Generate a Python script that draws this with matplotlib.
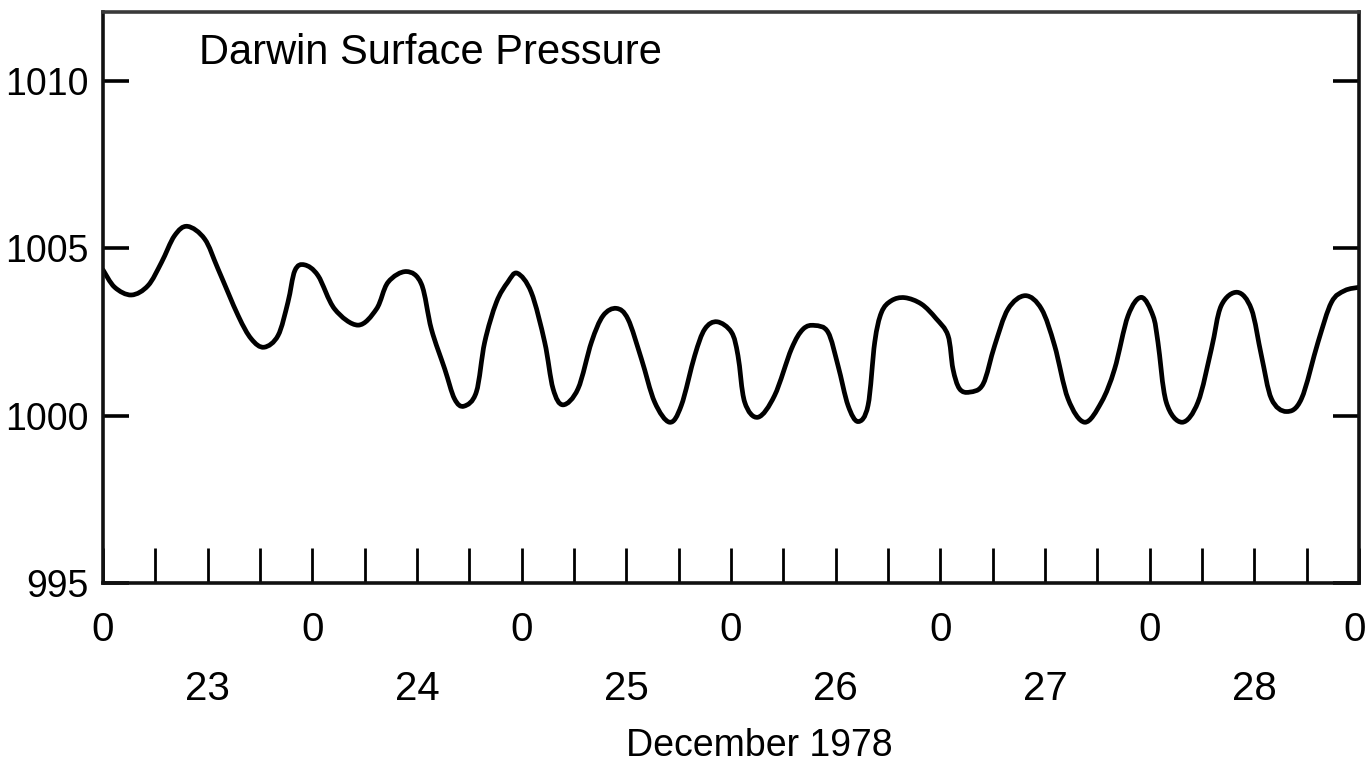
import numpy as np
import matplotlib
matplotlib.use("Agg")
import matplotlib.pyplot as plt
from matplotlib.path import Path
from matplotlib.patches import PathPatch
from matplotlib.transforms import ScaledTranslation

# hours since 00h 23 Dec 1978 and surface pressure (hPa)
hours = [0.0, 1.34, 3.26, 5.16, 6.7, 8.2, 9.68, 11.66, 13.2, 15.5, 17.0, 18.46,
         20.07, 21.2, 22.0, 23.1, 24.65, 26.56, 29.24, 31.35, 32.68, 34.79, 36.5,
         37.65, 39.18, 40.3, 41.39, 42.8, 43.76, 45.1, 46.4, 47.5, 49.1, 50.64,
         51.6, 52.74, 54.46, 56.0, 57.33, 58.86, 60.19, 61.73, 63.25, 64.97,
         66.3, 67.84, 68.99, 70.4, 72.05, 72.8, 73.57, 75.1, 77.0, 78.93, 80.26,
         81.6, 83.12, 84.27, 85.42, 86.56, 87.71, 88.48, 89.25, 90.39, 91.92,
         93.83, 95.5, 96.88, 97.45, 98.2, 99.37, 100.9, 102.23, 103.76, 105.75,
         107.6, 109.1, 110.64, 112.55, 114.47, 115.98, 117.52, 119.05, 120.38,
         120.95, 121.9, 123.71, 125.54, 127.08, 128.2, 130.06, 131.66, 132.81,
         133.96, 135.68, 137.4, 139.3, 140.84, 142.36, 144.0]
pressure = [1004.35, 1003.83, 1003.6, 1003.88, 1004.57, 1005.37, 1005.65, 1005.27,
            1004.37, 1002.98, 1002.29, 1002.04, 1002.39, 1003.38, 1004.33, 1004.5,
            1004.18, 1003.18, 1002.7, 1003.18, 1003.98, 1004.3, 1003.93, 1002.58,
            1001.39, 1000.5, 1000.28, 1000.7, 1002.19, 1003.38, 1003.98, 1004.25,
            1003.68, 1002.19, 1000.8, 1000.32, 1000.8, 1002.19, 1002.98, 1003.2,
            1002.88, 1001.69, 1000.4, 999.8, 1000.3, 1001.79, 1002.58, 1002.8,
            1002.49, 1001.79, 1000.4, 999.95, 1000.6, 1001.99, 1002.58, 1002.69,
            1002.49, 1001.49, 1000.3, 999.82, 1000.3, 1002.19, 1003.08, 1003.43,
            1003.52, 1003.33, 1002.9, 1002.39, 1001.39, 1000.8, 1000.7, 1000.94,
            1002.09, 1003.18, 1003.58, 1003.18, 1002.09, 1000.5, 999.8, 1000.4,
            1001.39, 1002.98, 1003.53, 1002.98, 1002.19, 1000.4, 999.8, 1000.4,
            1001.99, 1003.28, 1003.68, 1003.18, 1001.79, 1000.5, 1000.12, 1000.5,
            1002.19, 1003.38, 1003.73, 1003.83]

days = ["23", "24", "25", "26", "27", "28"]
y_ticks = [995, 1000, 1005, 1010]
title = "Darwin Surface Pressure"
xlabel = "December 1978"

plt.rcParams['font.family'] = ['Liberation Sans', 'DejaVu Sans']
FS = 27


def smooth_path(x, y):
    # Catmull-Rom through the read points, drawn as cubic Bezier segments
    x = np.asarray(x, float); y = np.asarray(y, float)
    px = np.concatenate([[x[0]], x, [x[-1]]])
    py = np.concatenate([[y[0]], y, [y[-1]]])
    verts = [(x[0], y[0])]
    codes = [Path.MOVETO]
    for i in range(1, len(px) - 2):
        c1 = (px[i] + (px[i + 1] - px[i - 1]) / 6, py[i] + (py[i + 1] - py[i - 1]) / 6)
        c2 = (px[i + 1] - (px[i + 2] - px[i]) / 6, py[i + 1] - (py[i + 2] - py[i]) / 6)
        verts += [c1, c2, (px[i + 1], py[i + 1])]
        codes += [Path.CURVE4] * 3
    return Path(verts, codes)


fig = plt.figure(figsize=(13.67, 7.65), dpi=100)
ax = fig.add_axes([103 / 1367, 182 / 765, 1256 / 1367, 571 / 765])

ax.add_patch(PathPatch(smooth_path(hours, pressure), fill=False, edgecolor="black",
                       lw=3.4, joinstyle="round", capstyle="round"))

ax.set_xlim(0, 144)
ax.set_ylim(995, 1012.05)

for s in ax.spines.values():
    s.set_linewidth(2.6)
    s.set_color("#111111")
ax.spines["top"].set_color("#3a3a3a")

ax.set_yticks(y_ticks)
ax.set_yticklabels([str(v) for v in y_ticks])
ax.tick_params(axis="y", direction="in", length=19, width=2.6, right=True,
               labelsize=FS, pad=10)

xt = list(range(0, 145, 6))
ax.set_xticks(xt)
ax.set_xticklabels(["0" if h % 24 == 0 else "" for h in xt])
ax.tick_params(axis="x", direction="in", length=25, width=2.0, labelsize=FS + 2, pad=20)
last = ax.get_xticklabels()[-1]
last.set_horizontalalignment("right")
last.set_transform(last.get_transform() + ScaledTranslation(0.07, 0, fig.dpi_scale_trans))

for i, d in enumerate(days):
    ax.text(12 + 24 * i, -0.185, d, transform=ax.get_xaxis_transform(),
            ha="center", va="center", fontsize=FS + 2)
ax.text(75.3, -0.285, xlabel, transform=ax.get_xaxis_transform(),
        ha="center", va="center", fontsize=FS)

ax.text(11.0, 0.928, title, transform=ax.get_xaxis_transform(),
        ha="left", va="center", fontsize=30)

fig.savefig("out.png", dpi=100)
